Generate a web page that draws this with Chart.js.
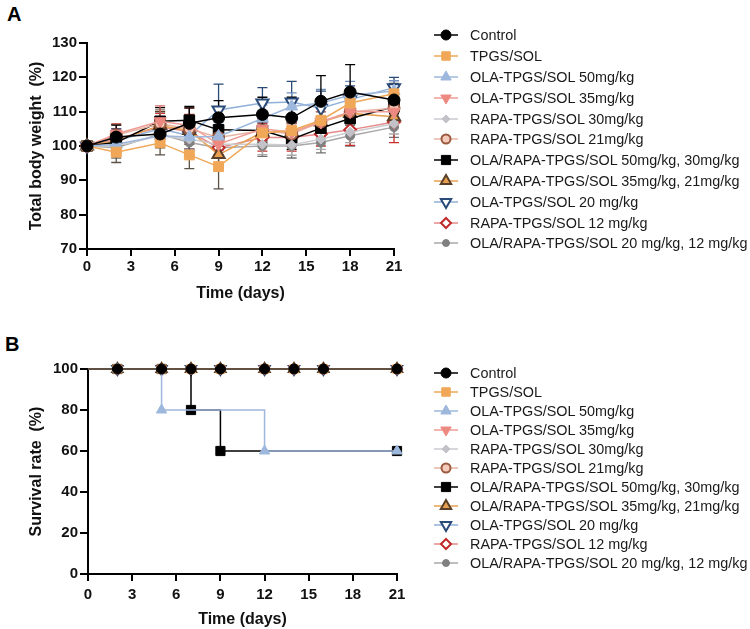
<!DOCTYPE html>
<html>
<head>
<meta charset="utf-8">
<script src="https://cdn.jsdelivr.net/npm/chart.js@4.4.1/dist/chart.umd.min.js"></script>
<style>
  body { margin: 0; background: #fff; font-family: 'Liberation Sans', Arial, sans-serif; }
  #wrap { position: relative; width: 750px; height: 629px; overflow: hidden; }
  .tag { position: absolute; font-weight: bold; font-size: 20px; line-height: 20px; color: #000; }
  .panel { position: absolute; left: 0; width: 420px; }
  .legend { position: absolute; left: 433px; font-size: 14.4px; color: #1a1a1a; }
  .legend .row { display: flex; align-items: center; white-space: nowrap; }
  .legend canvas { width: 26px; height: 16px; margin-right: 11px; flex: none; }
</style>
</head>
<body>
<div id="wrap">
  <div class="tag" style="left:7px; top:4px;">A</div>
  <div class="panel" style="top:0; height:310px;"><canvas id="weightChart" width="420" height="310"></canvas></div>
  <div class="legend" id="legendA" style="top:25px;"></div>

  <div class="tag" style="left:5px; top:334px;">B</div>
  <div class="panel" style="top:310px; height:319px;"><canvas id="survivalChart" width="420" height="319"></canvas></div>
  <div class="legend" id="legendB" style="top:363px;"></div>
</div>
<script>
// ---- data ----
const groupNames = [
  'Control',
  'TPGS/SOL',
  'OLA-TPGS/SOL 50mg/kg',
  'OLA-TPGS/SOL 35mg/kg',
  'RAPA-TPGS/SOL 30mg/kg',
  'RAPA-TPGS/SOL 21mg/kg',
  'OLA/RAPA-TPGS/SOL 50mg/kg, 30mg/kg',
  'OLA/RAPA-TPGS/SOL 35mg/kg, 21mg/kg',
  'OLA-TPGS/SOL 20 mg/kg',
  'RAPA-TPGS/SOL 12 mg/kg',
  'OLA/RAPA-TPGS/SOL 20 mg/kg, 12 mg/kg'
];

// panel A: body weight (%) measured on these days
const weightDays = [0, 2, 5, 7, 9, 12, 14, 16, 18, 21];
const weightControl  = [100, 102.6, 103.5, 106.6, 108.2, 109.2, 108.2, 113.0, 115.7, 113.4];
const weightTpgs     = [100, 98.2, 100.9, 97.4, 94.0, 103.8, 104.5, 107.5, 112.5, 115.2];
const weightOla50    = [100, 100.5, 103.0, 102.6, 102.8, 108.0, 111.5, 112.5, 114.8, 116.0];
const weightOla35    = [100, 103.5, 107.2, 106.0, 100.5, 105.0, 104.0, 107.0, 110.0, 110.0];
const weightRapa30   = [100, 100.0, 103.0, 102.0, 100.5, 100.5, 100.3, 102.0, 104.0, 106.5];
const weightRapa21   = [100, 103.2, 106.5, 105.0, 102.5, 104.5, 103.5, 107.0, 110.0, 111.0];
const weightCombo50  = [100, 101.0, 107.2, 107.5, 104.7, 104.5, 102.0, 105.2, 108.0, 111.4];
const weightCombo35  = [100, 101.5, 106.0, 104.5, 97.5, 104.0, 104.0, 107.0, 109.5, 108.5];
const weightOla20    = [100, 101.5, 105.0, 103.0, 110.5, 112.5, 112.8, 111.0, 113.5, 117.0];
const weightRapa12   = [100, 102.0, 105.5, 104.2, 99.5, 102.5, 102.5, 103.5, 104.7, 107.0];
const weightCombo20  = [100, 99.5, 103.5, 101.0, 99.5, 100.0, 100.0, 101.0, 103.0, 105.5];

// SD of body weight, same order
const sdControl  = [0, 3.5, 4.0, 4.5, 5.0, 5.0, 6.0, 7.5, 8.0, 4.0];
const sdTpgs     = [0, 3.0, 3.5, 4.0, 6.5, 3.0, 4.0, 3.5, 3.0, 3.0];
const sdOla50    = [0, 3.0, 3.5, 3.5, 4.0, 4.0, 4.0, 4.0, 4.0, 3.0];
const sdOla35    = [0, 3.0, 4.5, 5.0, 3.0, 3.0, 3.0, 3.0, 3.0, 3.0];
const sdRapa30   = [0, 2.5, 3.0, 3.0, 3.0, 3.0, 3.0, 3.0, 3.0, 3.0];
const sdRapa21   = [0, 3.0, 4.0, 4.0, 3.0, 3.0, 3.0, 3.0, 3.0, 3.0];
const sdCombo50  = [0, 3.0, 4.0, 4.0, 3.0, 3.0, 3.0, 3.0, 3.0, 3.0];
const sdCombo35  = [0, 3.0, 4.0, 4.0, 3.0, 3.0, 3.0, 3.0, 3.0, 3.0];
const sdOla20    = [0, 3.5, 5.0, 4.0, 7.5, 4.5, 6.0, 5.0, 4.0, 3.0];
const sdRapa12   = [0, 3.0, 4.0, 5.0, 3.0, 4.0, 4.0, 3.5, 4.5, 6.0];
const sdCombo20  = [0, 3.0, 3.0, 3.5, 3.0, 3.0, 3.5, 3.0, 3.0, 3.0];

// panel B: survival (%)
const survivalDays       = [0, 2, 5, 7, 9, 12, 14, 16, 21];
const survivalAll        = [100, 100, 100, 100, 100, 100, 100, 100, 100];
const survivalOla50Days  = [0, 2, 5, 12, 21];
const survivalOla50      = [100, 100, 80, 60, 60];
const survivalCombo50Days = [0, 2, 5, 7, 9, 21];
const survivalCombo50    = [100, 100, 100, 80, 60, 60];

const weightYTicks = [70, 80, 90, 100, 110, 120, 130];
const survivalYTicks = [0, 20, 40, 60, 80, 100];
const dayTicks = [0, 3, 6, 9, 12, 15, 18, 21];

// ---- styles ----
const STYLES = [
  { line: '#000000', fill: '#000000', edge: '#000000', shape: 'circle',   rot: 0,   r: 6,   bw: 1, err: '#000000' },
  { line: '#f0a858', fill: '#f0a858', edge: '#f0a858', shape: 'rect',     rot: 0,   r: 7,   bw: 1, err: '#5c5248' },
  { line: '#9db8dc', fill: '#9db8dc', edge: '#9db8dc', shape: 'triangle', rot: 0,   r: 7,   bw: 1, err: '#7090bb' },
  { line: '#ee9c96', fill: '#ec8a82', edge: '#ec8a82', shape: 'triangle', rot: 180, r: 7,   bw: 1, err: '#d06860' },
  { line: '#cbcbd0', fill: '#c2c2c8', edge: '#c2c2c8', shape: 'rectRot',  rot: 0,   r: 5,   bw: 1, err: '#a8a8a8' },
  { line: '#e8b4a4', fill: '#f4cbbb', edge: '#9a5a40', shape: 'circle',   rot: 0,   r: 5.5, bw: 2, err: '#8a6a5a' },
  { line: '#000000', fill: '#000000', edge: '#000000', shape: 'rect',     rot: 0,   r: 7.5, bw: 1, err: '#000000' },
  { line: '#e8a050', fill: '#e8a050', edge: '#5a4028', shape: 'triangle', rot: 0,   r: 7,   bw: 2, err: '#5a4028' },
  { line: '#8fb0d8', fill: '#ffffff', edge: '#2a4a78', shape: 'triangle', rot: 180, r: 7,   bw: 2, err: '#2a4a78' },
  { line: '#e48a88', fill: '#ffffff', edge: '#c02a2a', shape: 'rectRot',  rot: 0,   r: 6,   bw: 2, err: '#c8302c' },
  { line: '#a8a8a8', fill: '#808080', edge: '#808080', shape: 'circle',   rot: 0,   r: 4.5, bw: 1, err: '#707070' }
];

const FONT = "'Liberation Sans', Arial, sans-serif";
Chart.defaults.font.family = FONT;
Chart.defaults.color = '#000';

const weightSeries = [weightControl, weightTpgs, weightOla50, weightOla35, weightRapa30, weightRapa21,
                      weightCombo50, weightCombo35, weightOla20, weightRapa12, weightCombo20];
const sdSeries = [sdControl, sdTpgs, sdOla50, sdOla35, sdRapa30, sdRapa21,
                  sdCombo50, sdCombo35, sdOla20, sdRapa12, sdCombo20];

function toPoints(xs, ys) {
  return xs.map((x, i) => ({ x: x, y: ys[i] }));
}

// error bars drawn from the chart's own scales, under the markers
const errorBarPlugin = {
  id: 'errorBars',
  beforeDatasetsDraw(chart) {
    const ctx = chart.ctx;
    const xs = chart.scales.x, ys = chart.scales.y;
    for (let i = chart.data.datasets.length - 1; i >= 0; i--) {
      const ds = chart.data.datasets[i];
      if (!ds.errors) continue;
      ctx.save();
      ctx.strokeStyle = ds.errorColor;
      ctx.lineWidth = 1.3;
      ds.data.forEach((p, j) => {
        const e = ds.errors[j];
        if (!e) return;
        const x = xs.getPixelForValue(p.x);
        const yt = ys.getPixelForValue(p.y + e);
        const yb = ys.getPixelForValue(p.y - e);
        ctx.beginPath();
        ctx.moveTo(x, yt); ctx.lineTo(x, yb);
        ctx.moveTo(x - 5, yt); ctx.lineTo(x + 5, yt);
        ctx.moveTo(x - 5, yb); ctx.lineTo(x + 5, yb);
        ctx.stroke();
      });
      ctx.restore();
    }
  }
};

function axisOptions(cfg) {
  return {
    x: {
      type: 'linear', min: 0, max: 21,
      afterBuildTicks: s => { s.ticks = dayTicks.map(v => ({ value: v })); },
      afterFit: s => { s.height = cfg.xHeight; },
      border: { display: true, color: '#000', width: 2 },
      grid: { drawOnChartArea: false, drawTicks: true, tickLength: 7, color: '#000', lineWidth: 2 },
      ticks: { font: { size: 15, weight: 'bold' }, color: '#111', padding: cfg.xPad, maxRotation: 0 },
      title: { display: true, text: 'Time (days)', font: { size: 16, weight: 'bold' }, color: '#111',
               padding: { top: 0, bottom: cfg.xTitlePad } }
    },
    y: {
      type: 'linear', min: cfg.yTicks[0], max: cfg.yTicks[cfg.yTicks.length - 1],
      afterBuildTicks: s => { s.ticks = cfg.yTicks.map(v => ({ value: v })); },
      afterFit: s => { s.width = cfg.yWidth; },
      border: { display: true, color: '#000', width: 2 },
      grid: { drawOnChartArea: false, drawTicks: true, tickLength: 8, color: '#000', lineWidth: 2 },
      ticks: { font: { size: 15, weight: 'bold' }, color: '#111', padding: 2 },
      title: { display: true, text: cfg.yTitle, font: { size: 16, weight: 'bold' }, color: '#111',
               padding: { top: 27, bottom: 0 } }
    }
  };
}

// ---- panel A ----
new Chart(document.getElementById('weightChart'), {
  type: 'line',
  data: {
    datasets: groupNames.map((name, i) => {
      const st = STYLES[i];
      return {
        label: name,
        data: toPoints(weightDays, weightSeries[i]),
        errors: sdSeries[i],
        errorColor: st.err,
        borderColor: st.line,
        borderWidth: 1.5,
        backgroundColor: st.fill,
        pointBackgroundColor: st.fill,
        pointBorderColor: st.edge,
        pointBorderWidth: st.bw,
        pointStyle: st.shape,
        pointRotation: st.rot,
        pointRadius: st.r,
        tension: 0,
        clip: false
      };
    })
  },
  options: {
    responsive: false,
    animation: false,
    layout: { padding: { top: 43, right: 26, bottom: 0, left: 0 } },
    scales: axisOptions({ xHeight: 61, yWidth: 87, xPad: 2, xTitlePad: 7, yTicks: weightYTicks,
                          yTitle: 'Total body weight  (%)' }),
    plugins: { legend: { display: false }, tooltip: { enabled: false } }
  },
  plugins: [errorBarPlugin]
});

// ---- panel B ----
function survivalFor(i) {
  if (i === 2) return toPoints(survivalOla50Days, survivalOla50);
  if (i === 6) return toPoints(survivalCombo50Days, survivalCombo50);
  return toPoints(survivalDays, survivalAll);
}

new Chart(document.getElementById('survivalChart'), {
  type: 'line',
  data: {
    datasets: groupNames.map((name, i) => {
      const st = STYLES[i];
      const pts = survivalFor(i);
      return {
        label: name,
        data: pts,
        stepped: true,
        borderColor: i === 0 ? '#333333' : st.line,
        borderWidth: 1.5,
        backgroundColor: st.fill,
        pointBackgroundColor: st.fill,
        pointBorderColor: st.edge,
        pointBorderWidth: st.bw,
        pointStyle: st.shape,
        pointRotation: st.rot,
        pointRadius: pts.map((p, j) => (j === 0 ? 0 : st.r - 1)),
        clip: false
      };
    })
  },
  options: {
    responsive: false,
    animation: false,
    layout: { padding: { top: 59, right: 23, bottom: 0, left: 0 } },
    scales: axisOptions({ xHeight: 55, yWidth: 88, xPad: 5, xTitlePad: 0, yTicks: survivalYTicks,
                          yTitle: 'Survival rate  (%)' }),
    plugins: { legend: { display: false }, tooltip: { enabled: false } }
  }
});

// ---- legends ----
function buildLegend(el, rowHeight) {
  groupNames.forEach((name, i) => {
    const st = STYLES[i];
    const row = document.createElement('div');
    row.className = 'row';
    row.style.height = rowHeight + 'px';
    const cv = document.createElement('canvas');
    cv.width = 26; cv.height = 16;
    const ctx = cv.getContext('2d');
    ctx.strokeStyle = st.line;
    ctx.lineWidth = 1.5;
    ctx.beginPath(); ctx.moveTo(1, 8); ctx.lineTo(25, 8); ctx.stroke();
    ctx.fillStyle = st.fill;
    ctx.strokeStyle = st.edge;
    ctx.lineWidth = st.bw;
    Chart.helpers.drawPoint(ctx, { pointStyle: st.shape, rotation: st.rot, radius: st.r - 1, borderWidth: st.bw }, 13, 8);
    const txt = document.createElement('span');
    txt.textContent = name;
    row.appendChild(cv);
    row.appendChild(txt);
    el.appendChild(row);
  });
}
buildLegend(document.getElementById('legendA'), 20.8);
buildLegend(document.getElementById('legendB'), 19.1);
</script>
</body>
</html>
